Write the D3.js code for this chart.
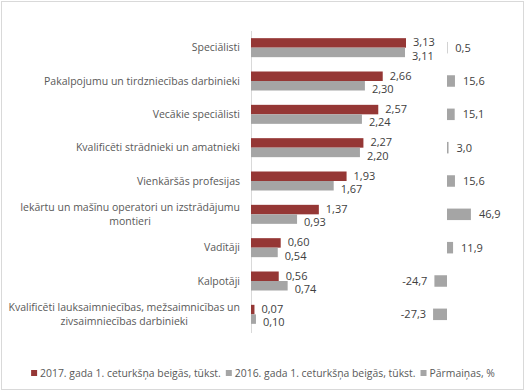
<!DOCTYPE html>
<html>
<head>
<meta charset="utf-8">
<script src="https://cdn.jsdelivr.net/npm/d3@7"></script>
<style>
  body { margin: 0; background: #fff; }
  svg { display: block; font-family: "Open Sans", sans-serif; }
</style>
</head>
<body>
<div id="chart"></div>
<script>
const categories = [
  "Speciālisti",
  "Pakalpojumu un tirdzniecības darbinieki",
  "Vecākie speciālisti",
  "Kvalificēti strādnieki un amatnieki",
  "Vienkāršās profesijas",
  "Iekārtu un mašīnu operatori un izstrādājumu montieri",
  "Vadītāji",
  "Kalpotāji",
  "Kvalificēti lauksaimniecības, mežsaimnicības un zivsaimniecības darbinieki",
];
const values2017 = [3.13, 2.66, 2.57, 2.27, 1.93, 1.37, 0.6, 0.56, 0.07];
const values2016 = [3.11, 2.3, 2.24, 2.2, 1.67, 0.93, 0.54, 0.74, 0.1];
const changePct = [0.5, 15.6, 15.1, 3.0, 15.6, 46.9, 11.9, -24.7, -27.3];
const seriesNames = [
  "2017. gada 1. ceturkšņa beigās, tūkst.",
  "2016. gada 1. ceturkšņa beigās, tūkst.",
  "Pārmaiņas, %",
];

const width = 526, height = 392;
const red = "#953735", gray = "#a5a5a5";
const fmt2 = (v) => v.toFixed(2).replace(".", ",");
const fmt1 = (v) => v.toFixed(1).replace(".", ",");

const svg = d3.select("#chart").append("svg")
  .attr("width", width).attr("height", height);

// outer border
svg.append("rect")
  .attr("x", 1.5).attr("y", 1.5)
  .attr("width", width - 4).attr("height", height - 4)
  .attr("fill", "none").attr("stroke", "#d9d9d9");

const rows = categories.map((c, i) => ({
  cat: c, v17: values2017[i], v16: values2016[i], ch: changePct[i],
}));

const y = d3.scaleBand().domain(categories).range([31, 331]);
const inner = d3.scaleBand().domain(["v17", "v16"])
  .range([y.bandwidth() / 2 - 9.5, y.bandwidth() / 2 + 9.5]);
const x = d3.scaleLinear().domain([0, 3.13]).range([251, 406]);
const xc = d3.scaleLinear().domain([-30, 50]).range([431.7, 472.5]);

// axis line
svg.append("line")
  .attr("x1", x(0) + 0.5).attr("x2", x(0) + 0.5)
  .attr("y1", 31).attr("y2", 333)
  .attr("stroke", "#d9d9d9");

const g = svg.selectAll(".row").data(rows).join("g")
  .attr("class", "row")
  .attr("transform", (d) => `translate(0, ${y(d.cat)})`);

// bars
g.append("rect")
  .attr("x", x(0)).attr("y", inner("v17"))
  .attr("width", (d) => x(d.v17) - x(0)).attr("height", inner.bandwidth())
  .attr("fill", red);
g.append("rect")
  .attr("x", x(0)).attr("y", inner("v16"))
  .attr("width", (d) => x(d.v16) - x(0)).attr("height", inner.bandwidth())
  .attr("fill", gray);

// change bars
const ch = y.bandwidth() / 2;
g.append("rect")
  .attr("x", (d) => Math.min(xc(0), xc(d.ch)))
  .attr("y", ch - 5.75)
  .attr("width", (d) => Math.max(0.5, Math.abs(xc(d.ch) - xc(0))))
  .attr("height", 11.5)
  .attr("fill", gray);

// value labels
g.append("text")
  .attr("x", (d) => x(d.v17) + 7)
  .attr("y", inner("v17") + inner.bandwidth() / 2 - 0.5)
  .attr("dy", "0.35em")
  .attr("font-size", 11).attr("fill", "#404040")
  .text((d) => fmt2(d.v17));
g.append("text")
  .attr("x", (d) => x(d.v16) + 7)
  .attr("y", inner("v16") + inner.bandwidth() / 2 + 3.5)
  .attr("dy", "0.35em")
  .attr("font-size", 11).attr("fill", "#404040")
  .text((d) => fmt2(d.v16));
g.append("text")
  .attr("x", (d) => d.ch >= 0 ? xc(d.ch) + 8 : xc(d.ch) - 7)
  .attr("y", ch)
  .attr("dy", "0.35em")
  .attr("text-anchor", (d) => d.ch >= 0 ? "start" : "end")
  .attr("font-size", 11).attr("fill", "#404040")
  .text((d) => fmt1(d.ch));

// category labels, wrapped
const maxW = 240, lineH = 14, catFs = 10.5;
g.each(function (d) {
  const t = d3.select(this).append("text")
    .attr("font-size", catFs).attr("fill", "#595959");
  const words = d.cat.split(" ");
  let lines = [], cur = [];
  words.forEach((w) => {
    cur.push(w);
    t.text(cur.join(" "));
    if (t.node().getComputedTextLength() > maxW && cur.length > 1) {
      cur.pop();
      lines.push(cur.join(" "));
      cur = [w];
    }
  });
  lines.push(cur.join(" "));
  t.text(null);
  if (lines.length === 1) {
    t.attr("text-anchor", "end")
      .append("tspan").attr("x", 240).attr("y", ch).attr("dy", "0.35em")
      .text(lines[0]);
  } else {
    const tmp = svg.append("text").attr("font-size", catFs).text(lines[0]);
    const w0 = tmp.node().getComputedTextLength();
    tmp.remove();
    const cx = 240 - w0 / 2;
    t.attr("text-anchor", "middle");
    lines.forEach((l, i) => {
      t.append("tspan").attr("x", cx)
        .attr("y", ch + (i - (lines.length - 1) / 2) * lineH)
        .attr("dy", "0.35em").text(l);
    });
  }
});

// legend
const legend = svg.append("g").attr("font-size", 10.4).attr("fill", "#595959");
let lx = 0;
seriesNames.forEach((n, i) => {
  const it = legend.append("g").attr("transform", `translate(${lx}, 0)`);
  it.append("rect").attr("x", 0).attr("y", -3).attr("width", 6).attr("height", 6)
    .attr("fill", i === 0 ? red : gray);
  const tx = it.append("text").attr("x", 9).attr("dy", "0.35em").text(n);
  lx += 9 + tx.node().getComputedTextLength() + 5;
});
const legW = lx - 5;
legend.attr("transform", `translate(${(width - legW) / 2}, 373)`);
</script>
</body>
</html>
